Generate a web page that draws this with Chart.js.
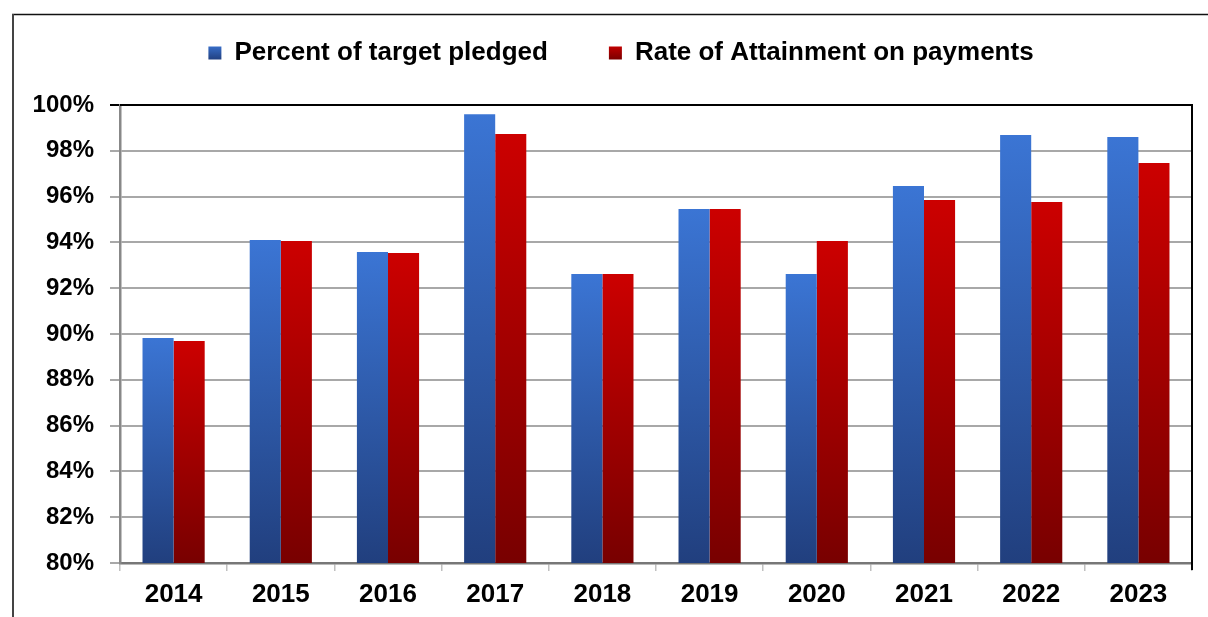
<!DOCTYPE html>
<html>
<head>
<meta charset="utf-8">
<script src="https://cdn.jsdelivr.net/npm/chart.js@4/dist/chart.umd.min.js"></script>
<style>
  html, body { margin: 0; padding: 0; background: #fff; }
  #wrap { width: 1208px; height: 617px; position: relative; }
</style>
</head>
<body>
<div id="wrap"><canvas id="c" width="1208" height="617"></canvas></div>
<script>
const categories = ['2014','2015','2016','2017','2018','2019','2020','2021','2022','2023'];
const seriesNames = ['Percent of target pledged', 'Rate of Attainment on payments'];
const pledged = [89.83, 94.10, 93.58, 99.60, 92.62, 95.46, 92.62, 96.46, 98.69, 98.60];
const attainment = [89.69, 94.06, 93.54, 98.73, 92.62, 95.46, 94.06, 95.85, 95.76, 97.47];
const yMin = 80, yMax = 100, yStep = 2;

const FONT = "'Liberation Sans', Arial, sans-serif";
const BLUE = ['#3b75d4', '#213f7e'];
const RED = ['#cc0000', '#780000'];

function barGradient(cols) {
  return (c) => {
    const chart = c.chart;
    const { ctx, chartArea, scales } = chart;
    if (!chartArea || c.type !== 'data' || !scales.y) return cols[0];
    const y0 = scales.y.getPixelForValue(c.raw);
    const y1 = scales.y.getPixelForValue(yMin);
    const g = ctx.createLinearGradient(0, y0, 0, y1);
    g.addColorStop(0, cols[0]);
    g.addColorStop(1, cols[1]);
    return g;
  };
}

const legendBoxFix = {
  id: 'legendBoxFix',
  beforeInit(chart) {
    const fit = chart.legend.fit;
    chart.legend.fit = function () {
      fit.bind(this)();
      this.height = 126;
    };
  },
  afterLayout(chart) {
    // centre the legend over the plot region like the original
    chart.legend.left += 25;
    chart.legend.right += 25;
  }
};

const framePlugin = {
  id: 'frame',
  afterDraw(chart) {
    const ctx = chart.ctx;
    const a = chart.chartArea;
    ctx.save();
    ctx.strokeStyle = '#111';
    ctx.lineWidth = 1.5;
    ctx.beginPath();
    ctx.moveTo(12, 14.5);
    ctx.lineTo(1208, 14.5);
    ctx.stroke();
    ctx.strokeStyle = '#444';
    ctx.lineWidth = 2;
    ctx.beginPath();
    ctx.moveTo(13, 14);
    ctx.lineTo(13, 617);
    ctx.stroke();
    ctx.strokeStyle = '#000';
    ctx.lineWidth = 2;
    ctx.beginPath();
    ctx.moveTo(a.left, a.top);
    ctx.lineTo(a.right, a.top);
    ctx.lineTo(a.right, a.bottom + 7);
    ctx.stroke();
    ctx.restore();
  }
};

function legendLabels(chart) {
  const ctx = chart.ctx;
  return chart.data.datasets.map((ds, i) => {
    const cols = i === 0 ? BLUE : RED;
    const g = ctx.createLinearGradient(0, 44, 0, 60);
    g.addColorStop(0, cols[0]);
    g.addColorStop(1, cols[1]);
    return {
      text: ds.label,
      fillStyle: g,
      strokeStyle: 'rgba(0,0,0,0)',
      lineWidth: 0,
      hidden: false,
      datasetIndex: i,
      fontColor: '#000'
    };
  });
}

new Chart(document.getElementById('c'), {
  type: 'bar',
  data: {
    labels: categories,
    datasets: [
      { label: seriesNames[0], data: pledged, backgroundColor: barGradient(BLUE), borderWidth: 0 },
      { label: seriesNames[1], data: attainment, backgroundColor: barGradient(RED), borderWidth: 0 }
    ]
  },
  options: {
    responsive: false,
    animation: false,
    devicePixelRatio: 1,
    categoryPercentage: 0.58,
    barPercentage: 1.0,
    layout: { padding: { left: 0, right: 16, top: -21, bottom: 0 } },
    plugins: {
      tooltip: { enabled: false },
      legend: {
        position: 'top',
        labels: {
          font: { family: FONT, size: 26, weight: 'bold' },
          color: '#000',
          boxWidth: 13,
          boxHeight: 13,
          padding: 61,
          generateLabels: legendLabels
        }
      }
    },
    scales: {
      x: {
        offset: true,
        afterFit(s) { s.height = 54; },
        grid: {
          offset: true,
          drawOnChartArea: false,
          drawTicks: true,
          tickLength: 8,
          color: '#c0c0c0',
          lineWidth: 1.5
        },
        border: { display: true, color: '#777', width: 2.5 },
        ticks: {
          font: { family: FONT, size: 26, weight: 'bold' },
          color: '#000',
          padding: 8,
          maxRotation: 0
        }
      },
      y: {
        min: yMin,
        max: yMax,
        afterFit(s) { s.width = 120; },
        grid: {
          color: (c) => c.tick && c.tick.value === yMax ? '#000' : '#a8a8a8',
          lineWidth: 2,
          tickLength: 10,
          drawTicks: true
        },
        border: { display: true, color: '#888', width: 2.5 },
        ticks: {
          stepSize: yStep,
          font: { family: FONT, size: 24, weight: 'bold' },
          color: '#000',
          padding: 16,
          callback: (v) => v + '%'
        }
      }
    }
  },
  plugins: [legendBoxFix, framePlugin]
});
</script>
</body>
</html>
